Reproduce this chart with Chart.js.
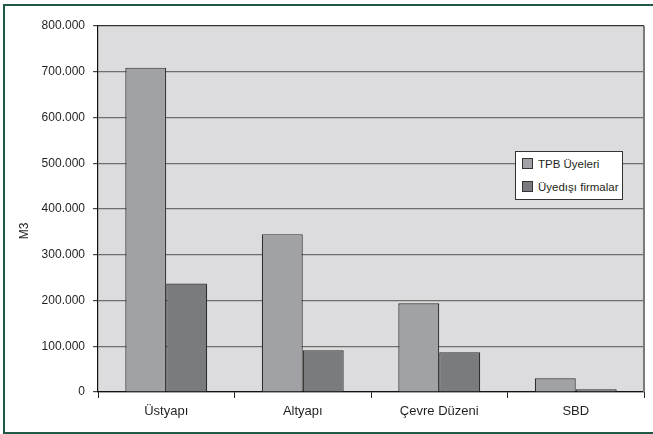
<!DOCTYPE html>
<html>
<head>
<meta charset="utf-8">
<script src="https://cdn.jsdelivr.net/npm/chart.js@4.4.1/dist/chart.umd.min.js"></script>
<style>
  body { margin: 0; background: #fff; }
  #frame { position: absolute; left: 3px; top: 4px; width: 670px; height: 430px; border: 2px solid #1f5844; box-sizing: border-box; }
  #wrap { position: absolute; left: 0; top: 0; width: 653px; height: 434px; }
  #legend { position: absolute; left: 515px; top: 151px; width: 108px; height: 49px; box-sizing: border-box;
            border: 1px solid #333; background: #fff; font: 11.5px 'Liberation Sans', Arial, sans-serif; color: #231f20; }
  #legend div { position: absolute; left: 6px; height: 14px; line-height: 14px; white-space: nowrap; }
  #legend span { display: inline-block; width: 9px; height: 9px; border: 1px solid #333; margin-right: 5px; vertical-align: -1px; }
</style>
</head>
<body>
<div id="frame"></div>
<div id="wrap"><canvas id="chart" width="653" height="434"></canvas></div>
<div id="legend"></div>
<script>
const categories = ['Üstyapı', 'Altyapı', 'Çevre Düzeni', 'SBD'];
const seriesNames = ['TPB Üyeleri', 'Üyedışı firmalar'];
const tpbUyeleri = [709000, 345000, 194000, 30000];
const uyedisiFirmalar = [237000, 91000, 87000, 6000];
const yMax = 800000;
const yStep = 100000;
const yTitle = 'M3';

const fontFamily = "'Liberation Sans', Arial, sans-serif";

function formatTick(v) {
    return String(v).replace(/\B(?=(\d{3})+(?!\d))/g, '.');
}

const plotBackground = {
    id: 'plotBackground',
    beforeDraw(chart) {
        const a = chart.chartArea;
        const ctx = chart.ctx;
        ctx.save();
        ctx.fillStyle = '#dcdcde';
        ctx.fillRect(a.left, a.top, a.right - a.left, a.bottom - a.top);
        ctx.restore();
    },
    afterDraw(chart) {
        const a = chart.chartArea;
        const ctx = chart.ctx;
        ctx.save();
        ctx.strokeStyle = '#7a7a7a';
        ctx.lineWidth = 2;
        ctx.beginPath();
        ctx.moveTo(a.right, a.top);
        ctx.lineTo(a.right, a.bottom);
        ctx.stroke();
        // y axis title
        ctx.fillStyle = '#231f20';
        ctx.font = '12px ' + fontFamily;
        ctx.textAlign = 'center';
        ctx.textBaseline = 'middle';
        ctx.translate(25, a.top + (a.bottom - a.top) * 0.56);
        ctx.rotate(-Math.PI / 2);
        ctx.fillText(yTitle, 0, 0);
        ctx.restore();
    }
};

const chart = new Chart(document.getElementById('chart'), {
    type: 'bar',
    data: {
        labels: categories,
        datasets: [{
            label: seriesNames[0],
            data: tpbUyeleri,
            backgroundColor: '#a1a2a6',
            borderColor: '#2e2e2e',
            borderWidth: 1.2
        }, {
            label: seriesNames[1],
            data: uyedisiFirmalar,
            backgroundColor: '#7a7b7f',
            borderColor: '#2e2e2e',
            borderWidth: 1.2
        }]
    },
    options: {
        responsive: false,
        animation: false,
        layout: { padding: { left: 0, top: 26, right: 9, bottom: 0 } },
        datasets: { bar: { categoryPercentage: 0.6, barPercentage: 1.0 } },
        plugins: { legend: { display: false }, tooltip: { enabled: false } },
        scales: {
            x: {
                offset: true,
                grid: { display: true, drawOnChartArea: false, drawTicks: true, tickLength: 6, color: '#222', lineWidth: 1 },
                border: { display: true, color: '#111', width: 1.2 },
                ticks: { color: '#231f20', padding: 6, font: { family: fontFamily, size: 13 } },
                afterFit(scale) { scale.height = 42; }
            },
            y: {
                min: 0,
                max: yMax,
                ticks: { stepSize: yStep, color: '#231f20', padding: 8, font: { family: fontFamily, size: 12 },
                         callback: (v) => formatTick(v) },
                grid: {
                    color: (c) => c.tick && c.tick.value === yMax ? '#333' : '#6e6e6e',
                    tickColor: '#444',
                    lineWidth: 1.2,
                    tickLength: 5
                },
                border: { display: true, color: '#111', width: 1.2 },
                afterFit(scale) { scale.width = 98; }
            }
        }
    },
    plugins: [plotBackground]
});

// legend box inside the plot, built from the datasets
const legend = document.getElementById('legend');
chart.data.datasets.forEach((ds, i) => {
    const item = document.createElement('div');
    item.style.top = (5 + i * 23) + 'px';
    const sw = document.createElement('span');
    sw.style.background = ds.backgroundColor;
    item.appendChild(sw);
    item.appendChild(document.createTextNode(ds.label));
    legend.appendChild(item);
});
</script>
</body>
</html>
